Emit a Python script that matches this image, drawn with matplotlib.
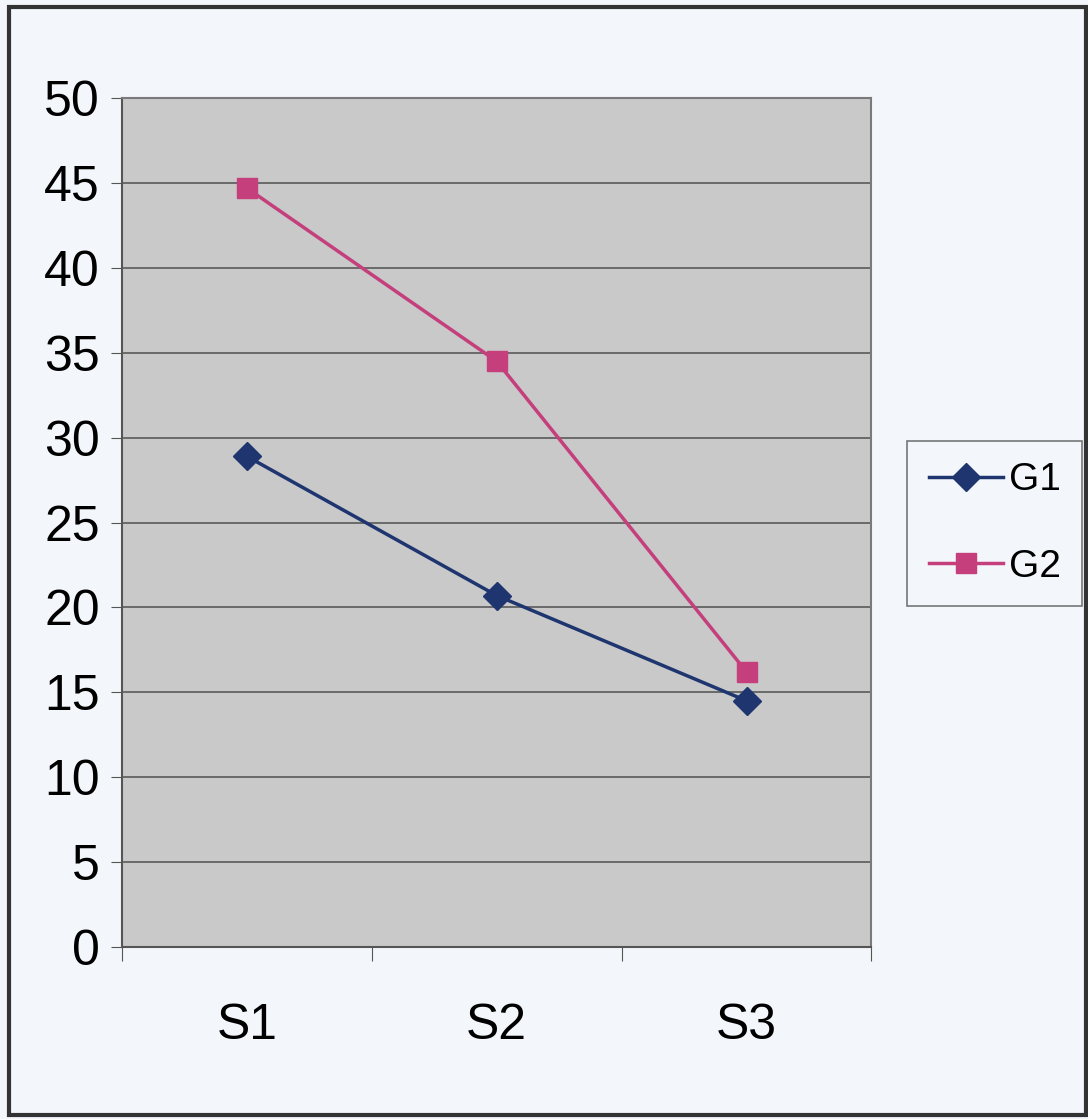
import matplotlib.pyplot as plt
import matplotlib.patches as mpatches

# data
categories = ['S1', 'S2', 'S3']
g1 = [28.9, 20.7, 14.5]
g2 = [44.7, 34.5, 16.2]

plt.rcParams['font.family'] = ['Liberation Sans', 'DejaVu Sans']

fig = plt.figure(figsize=(10.88, 11.19), dpi=100, facecolor='#f3f7fb')
ax = fig.add_axes([0.112, 0.1537, 0.689, 0.7587])
ax.set_facecolor('#c9c9c9')

x = [0.5, 1.5, 2.5]
ax.plot(x, g1, color='#1e3570', lw=2.5, marker='D', ms=14, label='G1', zorder=3)
ax.plot(x, g2, color='#c43f7c', lw=2.5, marker='s', ms=15, label='G2', zorder=3)

ax.set_xlim(0, 3)
ax.set_ylim(0, 50)
ax.set_yticks(range(0, 51, 5))
ax.set_xticks([0, 1, 2, 3])
ax.set_xticklabels([])
ax.set_xticks(x, minor=True)
ax.set_xticklabels(categories, minor=True)
ax.tick_params(axis='x', which='minor', length=0, pad=40, labelsize=36)
ax.tick_params(axis='x', which='major', length=10, direction='out', color='#555555')
ax.tick_params(axis='y', length=8, direction='out', labelsize=36, pad=8, color='#555555')
ax.yaxis.grid(True, color='#5a5a5a', lw=1.2)
ax.set_axisbelow(True)
for s in ['top', 'right']:
    ax.spines[s].set_color('#7a7a7a')
    ax.spines[s].set_linewidth(1.5)
for s in ['left', 'bottom']:
    ax.spines[s].set_color('#555555')
    ax.spines[s].set_linewidth(1.5)

leg = fig.legend(loc='center left', bbox_to_anchor=(0.834, 0.532), borderaxespad=0,
                 fontsize=28, frameon=True, fancybox=False, edgecolor='#555555',
                 facecolor='#f3f7fb', handlelength=1.9, borderpad=0.55,
                 labelspacing=1.3, handletextpad=0.15)
leg.get_frame().set_linewidth(1.2)

# outer border of the chart
fig.patches.append(mpatches.Rectangle((0.008, 0.004), 0.99, 0.99, transform=fig.transFigure,
                                      fill=False, edgecolor='#333333', lw=3))

fig.savefig('out.png', dpi=100, facecolor=fig.get_facecolor())
